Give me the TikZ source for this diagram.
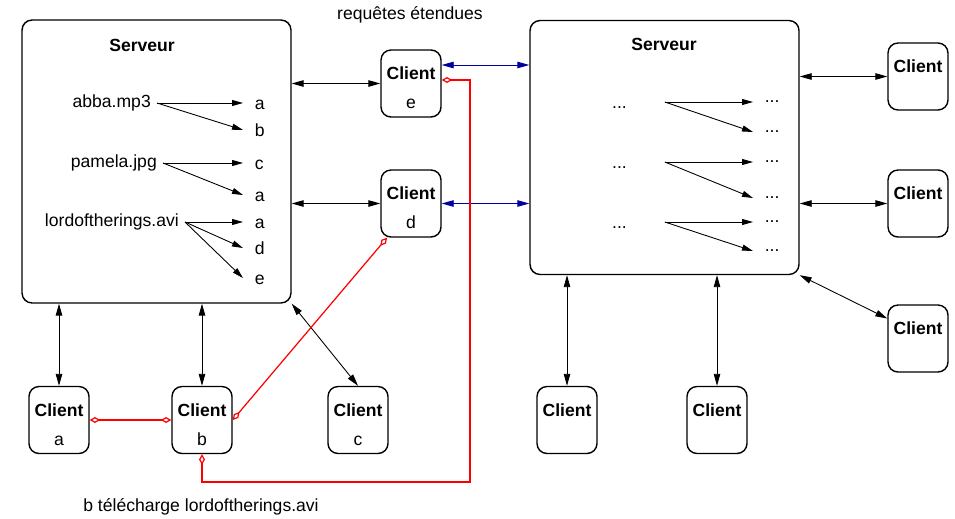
\documentclass[tikz,border=0pt]{standalone}
\usepackage{fontspec}
\setmainfont{Liberation Sans}
\usetikzlibrary{arrows.meta,positioning}
\definecolor{navy}{RGB}{0,0,160}

\begin{document}
\begin{tikzpicture}[
    x = 0.02cm, y = -0.02cm, % one unit = one pixel of the sketch
    font = \fontsize{10}{12}\selectfont,
    box/.style = {draw, line width=0.8pt, rounded corners=0.2cm},
    server/.style = {box, minimum width=5.38cm},
    client/.style = {box, minimum width=1.2cm, minimum height=1.34cm,
                     align=center, inner sep=0pt,
                     text height=8pt, text depth=12.2pt},
    owner/.style = {client, text height=29pt, text depth=0pt}, % two lines, base on the letter
    dest/.style = {anchor=west, inner xsep=6.5pt, inner ysep=0pt,
                   text height=1.5ex, text depth=0pt},
    both/.style = {{Triangle[length=2.4mm,width=1.3mm]}-{Triangle[length=2.4mm,width=1.3mm]},
                   line width=0.5pt},
    share/.style = {-{Triangle[length=2.2mm,width=1.2mm]}, line width=0.5pt},
    fetch/.style = {{Diamond[open,length=2.1mm,width=1.2mm]}-{Diamond[open,length=2.1mm,width=1.2mm]},
                    red, line width=0.7pt}
    ]
    \useasboundingbox (0,0) rectangle (955,518);

    % servers
    \node[server, minimum height=5.66cm] (srvL) at (156.5,161.5) {};
    \node[server, minimum height=5.08cm] (srvR) at (664.5,147.5) {};
    \node[font=\fontsize{10}{12}\selectfont\bfseries] (titleL) at (142,45) {Serveur};
    \node[font=\fontsize{10}{12}\selectfont\bfseries] (titleR) at (664,44) {Serveur};

    % clients
    \node[owner] (ce) at (411,83.5) {\textbf{Client}\\[4.6pt]e};
    \node[owner] (cd) at (411,203.5) {\textbf{Client}\\[4.6pt]d};
    \node[owner] (ca) at (59,420) {\textbf{Client}\\[4.6pt]a};
    \node[owner] (cb) at (202,420) {\textbf{Client}\\[4.6pt]b};
    \node[owner] (cc) at (358,420) {\textbf{Client}\\[4.6pt]c};
    \node[client] (cB1) at (567,420) {\textbf{Client}};
    \node[client] (cB2) at (717,420) {\textbf{Client}};
    \node[client] (cR1) at (918,76.5) {\textbf{Client}};
    \node[client] (cR2) at (918,203.5) {\textbf{Client}};
    \node[client] (cR3) at (918,338.5) {\textbf{Client}};

    % captions
    \node (reqs) at (410,15) {requêtes étendues};
    \node (dl) at (201,507) {b télécharge lordoftherings.avi};

    % table of the left server
    \node[anchor=east] (abba) at (157,103) {abba.mp3};
    \node[anchor=east] (pam) at (163,163) {pamela.jpg};
    \node[anchor=east] (lotr) at (185,222) {lordoftherings.avi};
    \node[dest] (abA) at (243,103) {a};
    \node[dest] (abB) at (243,130) {b};
    \node[dest] (paC) at (243,163) {c};
    \node[dest] (paA) at (243,195) {a};
    \node[dest] (loA) at (243,222) {a};
    \node[dest] (loD) at (243,248) {d};
    \node[dest] (loE) at (243,278) {e};
    \path[share] (abba.east) edge (abA.west) edge (abB.west);
    \path[share] (pam.east) edge (paC.west) edge (paA.west);
    \path[share] (lotr.east) edge (loA.west) edge (loD.west) edge (loE.west);

    % table of the right server
    \node[minimum width=1.8cm, text height=1.5ex, text depth=0pt, inner ysep=0pt] (q1) at (619.5,102) {...};
    \node[minimum width=1.8cm, text height=1.5ex, text depth=0pt, inner ysep=0pt] (q2) at (619.5,162) {...};
    \node[minimum width=1.8cm, text height=1.5ex, text depth=0pt, inner ysep=0pt] (q3) at (619.5,222) {...};
    \node[dest, text height=0pt] (r1) at (753,102) {...};
    \node[dest, text height=0pt] (r2) at (753,132) {...};
    \node[dest, text height=0pt] (r3) at (753,162) {...};
    \node[dest, text height=0pt] (r4) at (753,198) {...};
    \node[dest, text height=0pt] (r5) at (753,222) {...};
    \node[dest, text height=0pt] (r6) at (753,251) {...};
    \path[share] (q1.east) edge (r1.west) edge (r2.west);
    \path[share] (q2.east) edge (r3.west) edge (r4.west);
    \path[share] (q3.east) edge (r5.west) edge (r6.west);

    % links to the servers
    \path[both] (srvL.east |- ce.west) edge (ce.west);
    \path[both] (srvL.east |- cd.west) edge (cd.west);
    \path[both] (srvL.south -| ca.north) edge (ca.north);
    \path[both] (srvL.south -| cb.north) edge (cb.north);
    \path[both] (srvL.south east) edge (cc.north);
    \path[both, navy] ([yshift=0.37cm]ce.east) edge ([yshift=0.37cm]ce.east -| srvR.west);
    \path[both, navy] (cd.east) edge (cd.east -| srvR.west);
    \path[both] (srvR.east |- cR1.west) edge (cR1.west);
    \path[both] (srvR.east |- cR2.west) edge (cR2.west);
    \path[both] (srvR.south east) edge ([yshift=0.4cm]cR3.west);
    \path[both] (srvR.south -| cB1.north) edge (cB1.north);
    \path[both] (srvR.south -| cB2.north) edge (cB2.north);

    % downloads of b
    \coordinate (turn) at (470,482);
    \draw[fetch] (ca.east) -- (cb.west);
    \draw[fetch] (cb.east) -- (cd.-125);
    \draw[fetch] ([yshift=0.07cm]ce.east) -| (turn) -| (cb.south);
\end{tikzpicture}
\end{document}
